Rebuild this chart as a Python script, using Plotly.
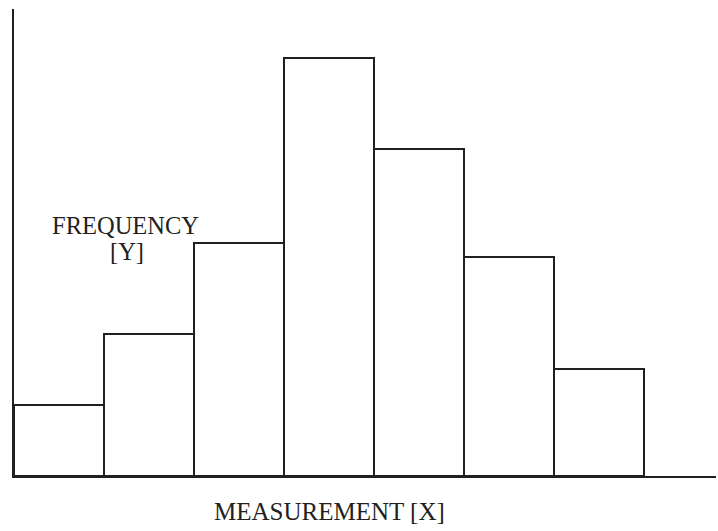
import plotly.graph_objects as go

# bin centres and frequencies (arbitrary units)
bins = [0.5, 1.5, 2.5, 3.5, 4.5, 5.5, 6.5]
freq = [71, 142, 233, 418, 327, 219, 107]

ink = "#231f20"

fig = go.Figure()

fig.add_trace(
    go.Bar(
        x=bins,
        y=freq,
        width=1,
        marker=dict(color="white", line=dict(color=ink, width=2)),
        hoverinfo="skip"
    )
)

fig.update_xaxes(
    range=[0, 7.8],
    showline=True,
    linecolor=ink,
    linewidth=2,
    showgrid=False,
    zeroline=False,
    showticklabels=False,
    ticks=""
)

fig.update_yaxes(
    range=[0, 467],
    showline=True,
    linecolor=ink,
    linewidth=2,
    showgrid=False,
    zeroline=False,
    showticklabels=False,
    ticks=""
)

font = dict(family="Liberation Serif, Times New Roman, serif", color=ink)

fig.add_annotation(
    x=1.244, y=251, xref="x", yref="y",
    text="FREQUENCY", showarrow=False,
    xanchor="center", yanchor="middle",
    font=dict(size=24.5, **font)
)
fig.add_annotation(
    x=1.255, y=225, xref="x", yref="y",
    text="[Y]", showarrow=False,
    xanchor="center", yanchor="middle",
    font=dict(size=24.5, **font)
)
# below the axis, so it has to be placed in paper coordinates
fig.add_annotation(
    x=3.5, y=-0.077, xref="x", yref="paper",
    text="MEASUREMENT [X]", showarrow=False,
    xanchor="center", yanchor="middle",
    font=dict(size=25, **font)
)

fig.update_layout(
    width=718,
    height=531,
    margin=dict(l=14, r=2, t=9, b=55),
    plot_bgcolor="white",
    paper_bgcolor="white",
    showlegend=False,
    bargap=0
)

# drop the browser's default body margin so the figure sits at the page corner
fig.write_html(
    "out.html",
    config={"displayModeBar": False},
    post_script="document.body.style.margin='0';document.body.style.overflow='hidden';"
)
